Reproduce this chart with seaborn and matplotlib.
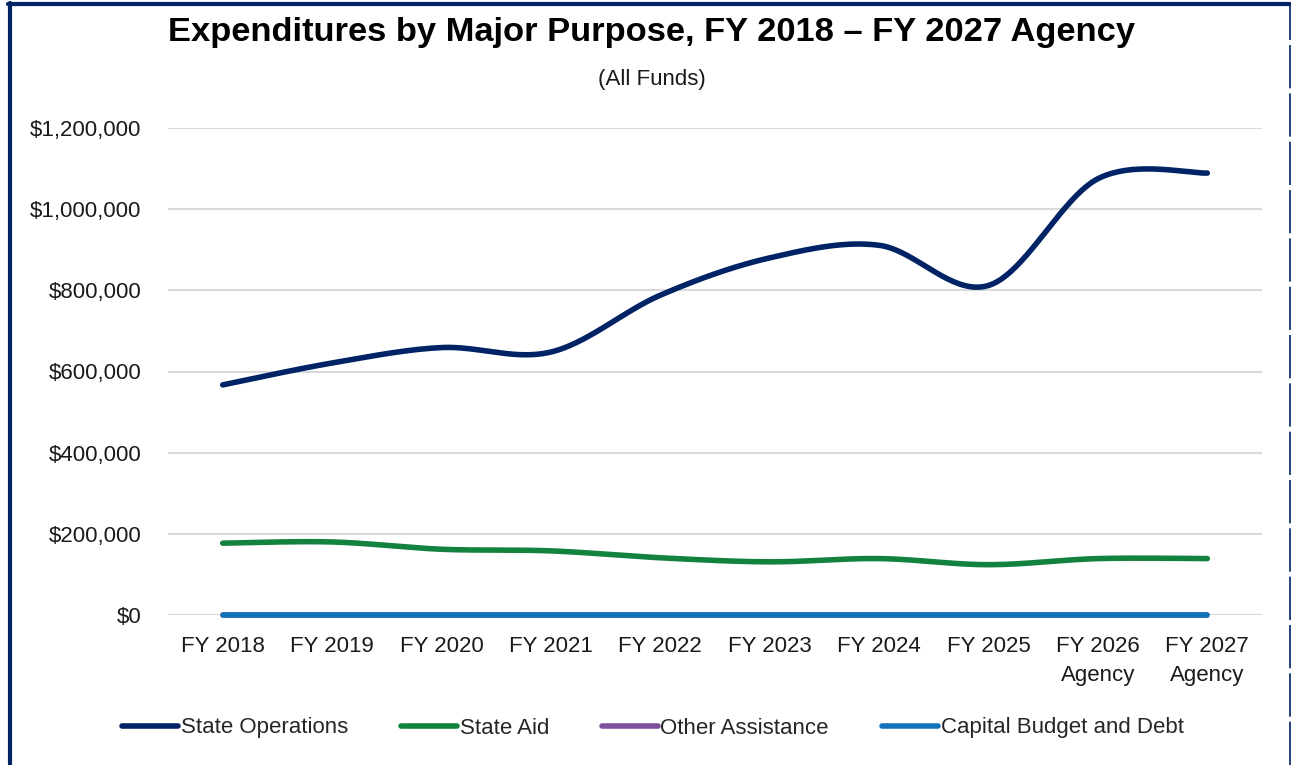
import numpy as np
import pandas as pd
import matplotlib
matplotlib.use("Agg")
import matplotlib.pyplot as plt
import seaborn as sns
from matplotlib.lines import Line2D
from matplotlib.ticker import FuncFormatter

sns.set_style("white")
plt.rcParams['font.family'] = ['Liberation Sans', 'DejaVu Sans']

# --- data ---
years = ["FY 2018", "FY 2019", "FY 2020", "FY 2021", "FY 2022",
         "FY 2023", "FY 2024", "FY 2025", "FY 2026\nAgency", "FY 2027\nAgency"]
state_operations = [567000, 621000, 659000, 648000, 788000,
                    880000, 911000, 812000, 1075000, 1089000]
state_aid = [177000, 180000, 162000, 158000, 141000,
             131000, 139000, 124000, 139000, 139000]
other_assistance = [0, 0, 0, 0, 0, 0, 0, 0, 0, 0]
capital_budget_debt = [0, 0, 0, 0, 0, 0, 0, 0, 0, 0]

series_names = ["State Operations", "State Aid", "Other Assistance", "Capital Budget and Debt"]
series_values = [state_operations, state_aid, other_assistance, capital_budget_debt]
colors = ["#002366", "#13823F", "#7F4F9F", "#1272BA"]

FS = 16


def smooth(xs, ys, n=40):
    # Excel-style smoothed line: cubic Bezier with Catmull-Rom control points
    P = np.column_stack([xs, ys]).astype(float)
    pts = []
    for i in range(len(P) - 1):
        p0 = P[max(i - 1, 0)]
        p1 = P[i]
        p2 = P[i + 1]
        p3 = P[min(i + 2, len(P) - 1)]
        c1 = p1 + (p2 - p0) / 6
        c2 = p2 - (p3 - p1) / 6
        t = np.linspace(0, 1, n, endpoint=(i == len(P) - 2))[:, None]
        seg = ((1 - t) ** 3) * p1 + 3 * ((1 - t) ** 2) * t * c1 + 3 * (1 - t) * t ** 2 * c2 + t ** 3 * p2
        pts.append(seg)
    return np.vstack(pts)


rows = []
x_idx = np.arange(len(years))
for name, vals in zip(series_names, series_values):
    curve = smooth(x_idx, vals)
    for k, (cx, cy) in enumerate(curve):
        rows.append({"series": name, "x": cx, "y": cy, "order": k})
df = pd.DataFrame(rows)

fig = plt.figure(figsize=(12.91, 7.65), dpi=100)
ax = fig.add_axes([168 / 1291, 150 / 765, 1094 / 1291, 487 / 765])

sns.lineplot(data=df, x="x", y="y", hue="series", hue_order=series_names,
             palette=colors, sort=False, estimator=None, linewidth=4.0,
             legend=False, ax=ax)
for ln in ax.get_lines():
    ln.set_solid_capstyle("round")
    ln.set_clip_on(False)

ax.set_xlim(-0.5, len(years) - 0.5)
ax.set_ylim(0, 1200000)
ax.set_yticks(np.arange(0, 1200001, 200000))
ax.yaxis.set_major_formatter(FuncFormatter(lambda v, p: f"${v:,.0f}"))
ax.set_xticks(x_idx)
ax.set_xticklabels(years)
ax.set_xlabel("")
ax.set_ylabel("")
ax.grid(axis="y", color="#D9D9D9", linewidth=1.5)
ax.grid(axis="x", visible=False)
ax.set_axisbelow(True)
sns.despine(ax=ax, left=True, bottom=True)
ax.tick_params(axis="y", length=0, pad=19, labelsize=FS, labelcolor="#1a1a1a")
ax.tick_params(axis="x", length=0, pad=15, labelsize=FS, labelcolor="#1a1a1a")
for lbl in ax.get_xticklabels():
    lbl.set_linespacing(1.5)

fig.text(652 / 1291, 1 - 33 / 765, "Expenditures by Major Purpose, FY 2018 \u2013 FY 2027 Agency",
         ha="center", va="center", fontsize=24.8, fontweight="bold", color="black")
fig.text(652 / 1291, 1 - 79 / 765, "(All Funds)", ha="center", va="center",
         fontsize=FS, color="#1a1a1a")

handles = [Line2D([0], [0], color=c, linewidth=4.0, solid_capstyle="round") for c in colors]
fig.legend(handles, series_names, loc="center", bbox_to_anchor=(653 / 1291, 1 - 728 / 765),
           ncol=4, frameon=False, fontsize=FS, handlelength=2.5, handletextpad=0.12,
           columnspacing=2.4)

# outer frame
navy = "#002366"
fig.add_artist(Line2D([10 / 1291, 10 / 1291], [0, 1 - 3 / 765], color=navy, linewidth=3))
fig.add_artist(Line2D([8 / 1291, 1290 / 1291], [1 - 3.5 / 765, 1 - 3.5 / 765], color=navy, linewidth=3))
fig.add_artist(Line2D([1289.5 / 1291, 1289.5 / 1291], [0, 1 - 3 / 765], color=navy, linewidth=1.2,
                      linestyle=(0, (26, 3))))

fig.savefig("out.png", dpi=100)
